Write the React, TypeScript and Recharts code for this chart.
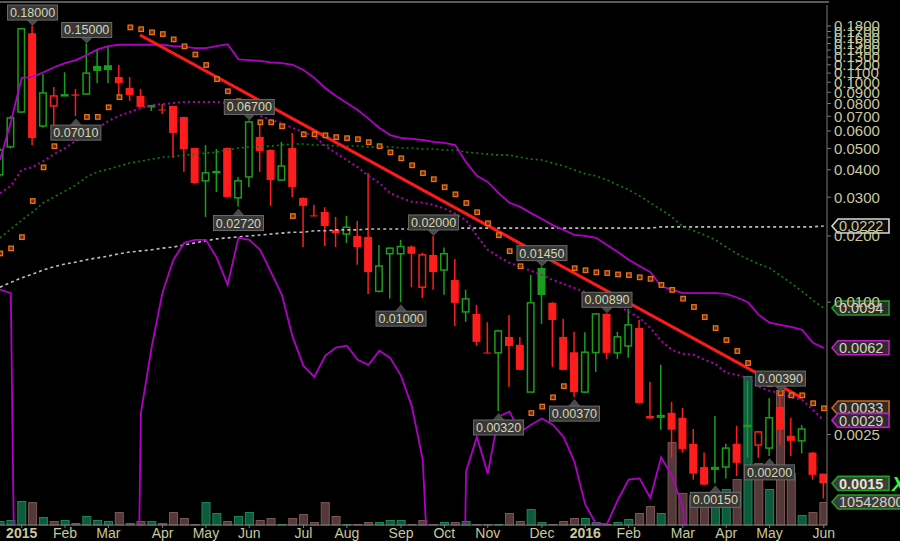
import { ComposedChart, Bar, Line, XAxis, YAxis, ReferenceLine, ReferenceDot } from "recharts";

// weekly bars, Dec 2014 .. Jun 2016 (index 0 = first partially visible week)
const OFF = 0.000001; // lower band below zero -> off the log scale

const opens = [
  0.0379, 0.0508, 0.0732, 0.167, 0.0632, 0.078, 0.0872, 0.088, 0.0884, 0.1186,
  0.1195, 0.1056, 0.0941, 0.0866, 0.0775, 0.0752, 0.078, 0.0695, 0.0502, 0.0356,
  0.0388, 0.0502, 0.0298, 0.0371, 0.0564, 0.0492, 0.0359, 0.0502, 0.0298, 0.0248,
  0.0257, 0.0213, 0.0204, 0.02, 0.0198, 0.0112, 0.0166, 0.0166, 0.0179, 0.0117,
  0.0164, 0.014, 0.0126, 0.00903, 0.00884, 0.0059, 0.00588, 0.00695, 0.0064, 0.0039,
  0.0143, 0.00993, 0.00695, 0.00592, 0.0039, 0.0059, 0.00885, 0.00588, 0.00632, 0.00764,
  0.00304, 0.003, 0.00314, 0.00298, 0.00227, 0.00178, 0.00174, 0.00178, 0.00227, 0.00272,
  0.00224, 0.00217, 0.00334, 0.00247, 0.00234, 0.00207, 0.00166,
];
const highs = [
  0.0505, 0.07, 0.176, 0.18, 0.109, 0.095, 0.111, 0.0932, 0.15, 0.1416,
  0.1446, 0.1197, 0.1056, 0.0932, 0.0785, 0.0796, 0.0782, 0.0697, 0.0504, 0.0518,
  0.0497, 0.0505, 0.0371, 0.067, 0.0639, 0.0495, 0.0535, 0.0588, 0.0299, 0.0277,
  0.027, 0.0244, 0.0247, 0.0234, 0.0387, 0.0182, 0.0177, 0.0192, 0.0181, 0.0168,
  0.02, 0.0177, 0.0157, 0.0114, 0.00972, 0.0081, 0.0075, 0.00874, 0.00695, 0.0133,
  0.0145, 0.01, 0.0084, 0.00733, 0.0073, 0.0089, 0.0089, 0.00733, 0.00932, 0.0083,
  0.00434, 0.00519, 0.00352, 0.0033, 0.00265, 0.00207, 0.00304, 0.00227, 0.00274, 0.0044,
  0.0026, 0.00367, 0.0039, 0.00298, 0.00276, 0.00208, 0.00166,
];
const lows = [
  0.037, 0.05, 0.0725, 0.0518, 0.062, 0.0632, 0.087, 0.0701, 0.088, 0.0992,
  0.0988, 0.0875, 0.0822, 0.077, 0.074, 0.0717, 0.0452, 0.0391, 0.0345, 0.0244,
  0.0317, 0.03, 0.0272, 0.0334, 0.0391, 0.0274, 0.0357, 0.0301, 0.0178, 0.0245,
  0.018, 0.0178, 0.0186, 0.0148, 0.0109, 0.0111, 0.0104, 0.01, 0.0117, 0.01045,
  0.0114, 0.0108, 0.0078, 0.00814, 0.00633, 0.00585, 0.0032, 0.00412, 0.0049, 0.0039,
  0.00796, 0.00508, 0.0049, 0.0037, 0.00385, 0.00482, 0.00552, 0.00552, 0.00558, 0.00345,
  0.00295, 0.00263, 0.00196, 0.00207, 0.00156, 0.00147, 0.0015, 0.00158, 0.00162, 0.00196,
  0.00196, 0.002, 0.00225, 0.002, 0.00205, 0.00156, 0.00128,
];
const closes = [
  0.0492, 0.0688, 0.175, 0.0557, 0.0894, 0.0866, 0.0876, 0.0868, 0.11, 0.1125,
  0.1135, 0.0992, 0.0875, 0.0772, 0.0782, 0.0748, 0.0588, 0.0497, 0.0348, 0.0387,
  0.0392, 0.0301, 0.0356, 0.066, 0.0487, 0.0359, 0.0416, 0.0334, 0.0274, 0.0246,
  0.0222, 0.0206, 0.0219, 0.0178, 0.0137, 0.0146, 0.0176, 0.0179, 0.0166, 0.0164,
  0.0137, 0.0166, 0.00993, 0.01035, 0.0066, 0.00587, 0.0074, 0.00632, 0.00492, 0.00993,
  0.01078, 0.0083, 0.00492, 0.0039, 0.00592, 0.00884, 0.00588, 0.00695, 0.00788, 0.00348,
  0.00296, 0.00305, 0.00263, 0.00215, 0.00166, 0.00148, 0.00177, 0.00217, 0.00186, 0.00275,
  0.00257, 0.00298, 0.00263, 0.00234, 0.00265, 0.00164, 0.0015,
];
// volume, millions
const volumes = [
  1.83, 2.29, 11.0, 10.5, 3.67, 1.83, 2.29, 0.92, 4.13, 2.29,
  1.83, 5.96, 0.92, 1.83, 1.83, 0.92, 5.96, 3.21, 0.46, 10.5,
  5.5, 1.83, 4.13, 5.96, 2.29, 3.21, 0.46, 3.21, 5.04, 1.38,
  10.5, 4.13, 0.46, 0.46, 1.38, 1.38, 2.29, 2.29, 0.46, 2.29,
  0.46, 1.38, 1.38, 1.83, 0.46, 0.46, 0.46, 5.5, 1.83, 7.33,
  1.38, 0.46, 1.83, 3.21, 3.21, 1.38, 0.46, 1.38, 2.75, 5.5,
  8.71, 5.5, 38.0, 14.7, 13.8, 11.9, 9.17, 16.5, 21.1, 68.3,
  28.4, 16.5, 61.9, 23.8, 4.58, 5.96, 10.5428,
];
const upperBand = [
  0.0443, 0.0659, 0.1046, 0.1057, 0.111, 0.117, 0.122, 0.126, 0.133, 0.141,
  0.146, 0.148, 0.148, 0.148, 0.148, 0.148, 0.146, 0.145, 0.143, 0.143,
  0.146, 0.149, 0.127, 0.126, 0.125, 0.123, 0.122, 0.12, 0.1136, 0.1046,
  0.0941, 0.0866, 0.0804, 0.0748, 0.0683, 0.0619, 0.0575, 0.0558, 0.0552, 0.0546,
  0.0535, 0.053, 0.0518, 0.0433, 0.0375, 0.0352, 0.0313, 0.0283, 0.0271, 0.0254,
  0.0239, 0.0224, 0.0213, 0.0202, 0.02, 0.0196, 0.0182, 0.0169, 0.0156, 0.0146,
  0.0137, 0.0118, 0.0114, 0.011, 0.011, 0.011, 0.011, 0.0109, 0.0105, 0.01,
  0.00875, 0.00806, 0.00788, 0.00772, 0.00748, 0.00653, 0.0062,
];
const midBand = [
  0.0313, 0.0337, 0.0399, 0.0411, 0.0438, 0.0471, 0.0502, 0.0541, 0.0575, 0.0619,
  0.0666, 0.0704, 0.0733, 0.0763, 0.0787, 0.0795, 0.0804, 0.0813, 0.0813, 0.0813,
  0.0813, 0.0804, 0.0771, 0.0733, 0.0704, 0.0673, 0.0652, 0.0619, 0.0594, 0.0569,
  0.0513, 0.0476, 0.0443, 0.0411, 0.0375, 0.0348, 0.0313, 0.0298, 0.0286, 0.0283,
  0.0277, 0.0266, 0.0252, 0.0236, 0.02, 0.0173, 0.0161, 0.0151, 0.0145, 0.0139,
  0.0133, 0.0126, 0.0121, 0.0116, 0.0111, 0.0107, 0.0101, 0.00963, 0.00904, 0.00848,
  0.00764, 0.00667, 0.00607, 0.00582, 0.00576, 0.00547, 0.00524, 0.00477, 0.00467, 0.00452,
  0.00412, 0.00395, 0.00387, 0.0037, 0.0036, 0.00324, 0.0029,
];
const lowerBand = [
  0.0114, 0.011, OFF, OFF, OFF, OFF, OFF, OFF, OFF, OFF,
  OFF, OFF, OFF, 0.00314, 0.00627, 0.0111, 0.0156, 0.0186, 0.0192, 0.0192,
  0.0159, 0.012, 0.0196, 0.0192, 0.0173, 0.0137, 0.0108, 0.00695, 0.00513, 0.00457,
  0.0057, 0.00621, 0.00634, 0.00547, 0.00519, 0.00601, 0.00558, 0.00462, 0.00336, 0.00192,
  0.0002, OFF, OFF, 0.0017, 0.00244, 0.00166, 0.00302, 0.00318, 0.00257, 0.00277,
  0.00296, 0.00277, 0.00244, 0.00188, 0.0012, 0.00098, 0.00098, 0.00126, 0.00156, 0.00158,
  0.00129, 0.00197, 0.00162, 0.00117, 0.0003, OFF, OFF, OFF, OFF, OFF,
  OFF, OFF, OFF, OFF, OFF, OFF, OFF,
];
const maGreen = [
  0.0196, 0.0215, 0.0236, 0.0257, 0.0283, 0.0301, 0.032, 0.0341, 0.0371, 0.0391,
  0.0402, 0.0416, 0.0429, 0.0438, 0.0447, 0.0456, 0.0461, 0.0466, 0.0471, 0.0476,
  0.0481, 0.0492, 0.0502, 0.0508, 0.0508, 0.0513, 0.0518, 0.0524, 0.0524, 0.0518,
  0.0518, 0.0513, 0.0513, 0.0513, 0.0508, 0.0508, 0.0508, 0.0502, 0.0502, 0.0497,
  0.0497, 0.0492, 0.0492, 0.0481, 0.0476, 0.0471, 0.0466, 0.0466, 0.0456, 0.0447,
  0.0443, 0.0429, 0.0416, 0.0399, 0.0383, 0.0375, 0.0359, 0.0341, 0.0324, 0.0304,
  0.0283, 0.0263, 0.0244, 0.022, 0.0211, 0.0202, 0.0192, 0.0178, 0.0166, 0.0157,
  0.0149, 0.0143, 0.0132, 0.0122, 0.0112, 0.0102, 0.0094,
];
const maGray = [
  0.0117, 0.0123, 0.0129, 0.0134, 0.014, 0.0145, 0.0149, 0.0152, 0.0156, 0.0159,
  0.0162, 0.0166, 0.0169, 0.0171, 0.0173, 0.0176, 0.0178, 0.0182, 0.0186, 0.019,
  0.0194, 0.0196, 0.0198, 0.02, 0.0202, 0.0204, 0.0206, 0.0208, 0.0208, 0.0211,
  0.0211, 0.0213, 0.0213, 0.0213, 0.0215, 0.0215, 0.0215, 0.0215, 0.0215, 0.0217,
  0.0217, 0.0217, 0.0217, 0.0217, 0.0217, 0.0217, 0.0217, 0.0217, 0.0217, 0.0217,
  0.0217, 0.0217, 0.0217, 0.0217, 0.0217, 0.0217, 0.0217, 0.0217, 0.0217, 0.0217,
  0.0217, 0.022, 0.022, 0.022, 0.022, 0.022, 0.022, 0.022, 0.022, 0.022,
  0.022, 0.022, 0.022, 0.022, 0.022, 0.022, 0.0222,
];
const sar = [
  0.0167, 0.0176, 0.0198, 0.0289, 0.0411, 0.0513, 0.0575, 0.0619, 0.0697, 0.0697,
  0.0771, 0.0857, 0.178, 0.1746, 0.169, 0.166, 0.157, 0.146, 0.134, 0.12,
  0.1035, 0.0912, 0.0821, 0.0748, 0.0659, 0.0659, 0.0632, 0.0247, 0.0581, 0.0581,
  0.0575, 0.0564, 0.0558, 0.0552, 0.0535, 0.0513, 0.0481, 0.0452, 0.042, 0.0387,
  0.0363, 0.0334, 0.031, 0.0283, 0.0257, 0.0229, 0.0202, 0.0171, 0.0146, 0.00314,
  0.00336, 0.0037, 0.00416, 0.0143, 0.014, 0.0137, 0.0136, 0.0134, 0.0133, 0.013,
  0.0128, 0.012, 0.0114, 0.0104, 0.00953, 0.00857, 0.00764, 0.00674, 0.00601, 0.0053,
  0.00472, 0.00425, 0.00387, 0.00378, 0.00378, 0.00348, 0.0033,
];

const monthTicks = [2, 6, 10, 15, 19, 23, 28, 32, 37, 41, 45, 50, 54, 58, 63, 67, 71, 76];
const monthLabels = ["2015", "Feb", "Mar", "Apr", "May", "Jun", "Jul", "Aug", "Sep", "Oct", "Nov", "Dec", "2016", "Feb", "Mar", "Apr", "May", "Jun"];
const priceTicks = [0.18, 0.17, 0.16, 0.15, 0.14, 0.13, 0.12, 0.11, 0.1, 0.09, 0.08, 0.07, 0.06, 0.05, 0.04, 0.03, 0.02, 0.01, 0.0025];

const callouts = [
  { i: 3, kind: "high" }, { i: 7, kind: "low" }, { i: 8, kind: "high" },
  { i: 22, kind: "low" }, { i: 23, kind: "high" }, { i: 37, kind: "low" },
  { i: 40, kind: "high" }, { i: 46, kind: "low" }, { i: 50, kind: "high" },
  { i: 53, kind: "low" }, { i: 56, kind: "high" }, { i: 66, kind: "low" },
  { i: 71, kind: "low" }, { i: 72, kind: "high" },
];

const trendStart = { i: 12.92, price: 0.164 };
const trendEnd = { i: 73.99, price: 0.00367 };

const X_MAX = 76.3;
const LAST = closes.length - 1;

const rows = opens.map((o, i) => ({
  i,
  open: o,
  high: highs[i],
  low: lows[i],
  close: closes[i],
  up: i === 0 ? true : closes[i] >= closes[i - 1],
  vol: volumes[i],
  upper: upperBand[i],
  mid: midBand[i],
  lower: lowerBand[i],
  ma1: maGreen[i],
  ma2: maGray[i],
  sar: sar[i],
}));

const GREEN = "#1b9e1b";
const RED = "#ff1c1c";
const AXIS_TEXT = "#c8c89e";
const PURPLE = "#b100c6";

function Candle(p: any) {
  const { x, y, width, height, payload } = p;
  if (!payload || !isFinite(y) || !isFinite(height)) return null;
  const top = Math.min(y, y + height);
  const bot = Math.max(y, y + height);
  const lh = Math.log(payload.high);
  const ll = Math.log(payload.low);
  const py = (v: number) => (lh === ll ? top : top + ((lh - Math.log(v)) / (lh - ll)) * (bot - top));
  const color = payload.up ? GREEN : RED;
  const cx = x + width / 2;
  const yo = py(payload.open);
  const yc = py(payload.close);
  const bt = Math.min(yo, yc);
  const bh = Math.max(Math.abs(yo - yc), 1);
  const hollow = payload.close > payload.open;
  return (
    <g>
      <line x1={cx} x2={cx} y1={top} y2={bot} stroke={color} strokeWidth={1.5} />
      {hollow ? (
        <rect x={x + 0.75} y={bt} width={width - 1.5} height={bh} fill="#000" stroke={color} strokeWidth={1.5} />
      ) : (
        <rect x={x} y={bt} width={width} height={bh} fill={color} />
      )}
    </g>
  );
}

function VolBar(p: any) {
  const { x, y, width, height, payload } = p;
  if (!payload || !isFinite(y)) return null;
  const up = payload.up;
  return (
    <rect x={x + 0.5} y={y + 0.5} width={width - 1} height={Math.max(height - 0.5, 0)}
      fill={up ? "#0d5b3b" : "#553838"} stroke={up ? "#1c875a" : "#7a5656"} strokeWidth={1} />
  );
}

function SarDot(p: any) {
  const { cx, cy } = p;
  if (cx == null || cy == null || !isFinite(cy)) return null;
  return <rect x={cx - 2} y={cy - 2} width={4.5} height={4.5} fill="#6a2a00" stroke="#e8711c" strokeWidth={1.3} />;
}

function MonthTick(p: any) {
  const { x, y, payload } = p;
  const label = monthLabels[monthTicks.indexOf(payload.value)] ?? "";
  const year = /^\d{4}$/.test(label);
  return (
    <text x={x} y={y} dy={10} textAnchor="middle" fill={AXIS_TEXT} fontSize={14} fontWeight={year ? 700 : 400}>
      {label}
    </text>
  );
}

function Callout(p: any) {
  const { cx, cy, text, kind } = p;
  if (cx == null || cy == null) return null;
  const w = 50;
  const h = 15;
  const high = kind === "high";
  const by = high ? cy - 6 - h : cy + 9;
  const tri = high
    ? `${cx - 6},${cy - 6} ${cx + 6},${cy - 6} ${cx},${cy}`
    : `${cx - 6},${cy + 9} ${cx + 6},${cy + 9} ${cx},${cy + 2}`;
  return (
    <g>
      <polygon points={tri} fill="#4a4a4a" />
      <rect x={cx - w / 2} y={by} width={w} height={h} fill="#383838" stroke="#6c6c6c" strokeWidth={1} />
      <text x={cx} y={by + h / 2} dy="0.36em" textAnchor="middle" fill="#d6d6b4" fontSize={12.5}>
        {text}
      </text>
    </g>
  );
}

function AxisTag(p: any) {
  const { cx, cy, text, stroke, fill, color, bold, wide, mark } = p;
  if (cx == null || cy == null) return null;
  const x0 = cx + 5;
  const w = wide ? 80 : 57;
  return (
    <g>
      <polygon
        points={`${x0},${cy} ${x0 + 6},${cy - 7} ${x0 + w},${cy - 7} ${x0 + w},${cy + 7} ${x0 + 6},${cy + 7}`}
        fill={fill} stroke={stroke} strokeWidth={1.6} />
      <text x={x0 + 7} y={cy} dy="0.36em" fill={color} fontSize={14.5} fontWeight={bold ? 700 : 400}>
        {text}
      </text>
      {mark ? (
        <text x={x0 + w + 3} y={cy} dy="0.38em" fill="#2cff2c" fontSize={20} fontWeight={700} fontStyle="italic">
          X
        </text>
      ) : null}
    </g>
  );
}

const tags = [
  { value: maGray[LAST], stroke: "#d8d8d8", fill: "#0c0c0c", color: AXIS_TEXT },
  { value: maGreen[LAST], stroke: "#1f9f1f", fill: "#2c2c2c", color: "#d4d4bc" },
  { value: upperBand[LAST], stroke: "#c21cc8", fill: "#2c2c2c", color: "#d4d4bc" },
  { value: sar[LAST], stroke: "#cc6414", fill: "#2c2c2c", color: "#d4d4bc" },
  { value: midBand[LAST], stroke: "#c21cc8", fill: "#2c2c2c", color: "#d4d4bc" },
  { value: closes[LAST], stroke: "#1f9f1f", fill: "#3c3c3c", color: "#e4e4d0", bold: true, mark: true },
];

export default function App() {
  return (
    <div style={{ position: "absolute", left: 0, top: 0, width: 900, height: 541, background: "#000", overflow: "hidden", fontFamily: '"Liberation Sans", Arial, sans-serif' }}>
      <div style={{ position: "absolute", left: 0, top: 1, width: 829, height: 2, background: "#595959" }} />
      <ComposedChart width={900} height={541} data={rows} margin={{ top: 5, right: 0, bottom: 0, left: 0 }}
        style={{ fontFamily: '"Liberation Sans", Arial, sans-serif' }}>
        <XAxis xAxisId="p" type="number" dataKey="i" domain={[0, X_MAX]} allowDataOverflow ticks={monthTicks}
          interval={0} height={16} tick={<MonthTick />} tickSize={3} tickMargin={0}
          axisLine={{ stroke: "#7a7a7a" }} tickLine={{ stroke: "#7a7a7a" }} />
        <XAxis xAxisId="v" type="number" dataKey="i" domain={[0, X_MAX]} allowDataOverflow hide />
        <YAxis yAxisId="price" orientation="right" scale="log" domain={[0.00097, 0.2244]} allowDataOverflow
          ticks={priceTicks} interval={0} width={73} tickSize={4} tickMargin={3}
          tickFormatter={(v: number) => v.toFixed(4)}
          tick={{ fill: AXIS_TEXT, fontSize: 15 }}
          axisLine={{ stroke: "#7a7a7a" }} tickLine={{ stroke: "#7a7a7a" }} />
        <YAxis yAxisId="vol" domain={[0, 238.4]} hide />

        <Bar xAxisId="v" yAxisId="vol" dataKey="vol" barSize={9} shape={(p: any) => <VolBar {...p} />} isAnimationActive={false} />

        <Line xAxisId="p" yAxisId="price" dataKey="ma2" stroke="#bdbdbd" strokeWidth={1.6} strokeDasharray="3 3" dot={false} activeDot={false} isAnimationActive={false} />
        <Line xAxisId="p" yAxisId="price" dataKey="ma1" stroke="#0f7f0f" strokeWidth={1.6} strokeDasharray="2 3" dot={false} activeDot={false} isAnimationActive={false} />
        <Line xAxisId="p" yAxisId="price" dataKey="lower" stroke={PURPLE} strokeWidth={1.8} dot={false} activeDot={false} isAnimationActive={false} />
        <Line xAxisId="p" yAxisId="price" dataKey="upper" stroke={PURPLE} strokeWidth={1.8} dot={false} activeDot={false} isAnimationActive={false} />
        <Line xAxisId="p" yAxisId="price" dataKey="mid" stroke="#b000b4" strokeWidth={2} strokeDasharray="2 3" dot={false} activeDot={false} isAnimationActive={false} />
        <Line xAxisId="p" yAxisId="price" dataKey="sar" stroke="none" dot={(p: any) => <SarDot key={p.index} {...p} />} activeDot={false} isAnimationActive={false} />

        <Bar xAxisId="p" yAxisId="price" dataKey={(d: any) => [d.low, d.high]} barSize={8} shape={(p: any) => <Candle {...p} />} isAnimationActive={false} />

        <ReferenceLine xAxisId="p" yAxisId="price" stroke="#ff1a1a" strokeWidth={3}
          segment={[{ x: trendStart.i, y: trendStart.price }, { x: trendEnd.i, y: trendEnd.price }]} />

        {callouts.map((c) => {
          const price = c.kind === "high" ? highs[c.i] : lows[c.i];
          return (
            <ReferenceDot key={`c${c.i}`} xAxisId="p" yAxisId="price" x={c.i} y={price} ifOverflow="visible"
              shape={(p: any) => <Callout {...p} text={price.toFixed(5)} kind={c.kind} />} />
          );
        })}

        {tags.map((t, k) => (
          <ReferenceDot key={`t${k}`} xAxisId="p" yAxisId="price" x={X_MAX} y={t.value} ifOverflow="visible"
            shape={(p: any) => <AxisTag {...p} {...t} text={t.value.toFixed(4)} />} />
        ))}
        <ReferenceDot xAxisId="v" yAxisId="vol" x={X_MAX} y={volumes[LAST]} ifOverflow="visible"
          shape={(p: any) => (
            <AxisTag {...p} text={String(Math.round(volumes[LAST] * 1e6))} stroke="#1f9f1f" fill="#3c3c3c" color="#d4d4bc" wide />
          )} />
      </ComposedChart>
    </div>
  );
}
